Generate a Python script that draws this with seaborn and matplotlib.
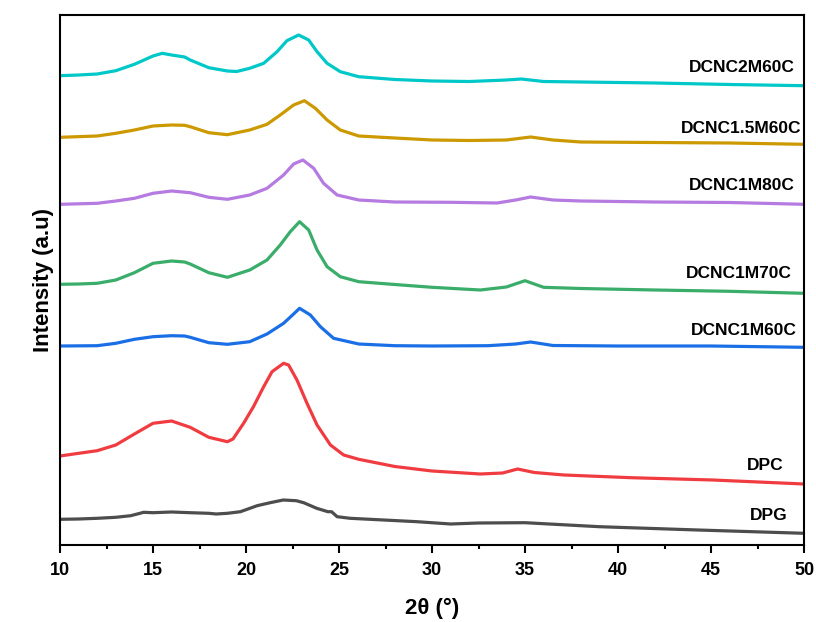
import numpy as np
import pandas as pd
import matplotlib
matplotlib.use("Agg")
import matplotlib.pyplot as plt
from matplotlib.ticker import MultipleLocator
import seaborn as sns

# ---- data (2theta in degrees, intensity in a.u., stacked) ----
cyan_x = [10.0, 11.0, 12.0, 13.0, 14.0, 15.0, 15.5, 16.0, 16.7, 17.0, 18.0, 19.0, 19.5,
          20.2, 20.95, 21.67, 22.2, 22.83, 23.37, 23.82, 24.36, 25.07, 26.06, 28.0,
          30.0, 32.0, 34.0, 34.8, 36.0, 38.0, 42.0, 46.0, 50.0]
cyan_y = [469.3, 470, 471, 474.3, 480.7, 489, 491.7, 490, 488, 485, 477.3, 474, 473.5,
          476.7, 481.7, 493.3, 504.3, 510, 505, 493.3, 481.7, 473.3, 468.3, 465.5,
          464, 463.5, 465, 466, 463.5, 463, 462, 460.5, 459.3]

gold_x = [10.0, 12.0, 13.0, 14.0, 15.0, 16.0, 16.7, 17.0, 18.0, 19.0, 20.2, 21.13,
          21.84, 22.56, 23.14, 23.73, 24.36, 25.07, 26.06, 28.0, 30.0, 32.0, 34.0,
          35.3, 36.5, 38.0, 42.0, 46.0, 50.0]
gold_y = [407.7, 409, 411.7, 415, 419, 420, 419.7, 418.3, 412.3, 410.3, 415, 420.7,
          430, 440, 444.3, 436.7, 425, 415, 409, 407, 405, 404.5, 405,
          408, 405, 403, 402.5, 402, 400.7]

purple_x = [10.0, 12.0, 13.0, 14.0, 15.0, 16.0, 17.0, 18.0, 19.0, 20.2, 21.13, 22.02,
            22.56, 23.06, 23.64, 24.17, 24.9, 26.06, 28.0, 31.0, 33.5, 34.5, 35.3,
            36.5, 38.0, 42.0, 46.0, 50.0]
purple_y = [340.7, 341.7, 344, 346.7, 351.7, 354, 352.3, 347.7, 345.7, 350, 356.7, 370,
            381, 385, 376.7, 361.7, 350, 345, 343, 342.7, 342, 345, 348,
            345, 344, 343, 342.5, 340.7]

green_x = [10.0, 11.0, 12.0, 13.0, 14.0, 15.0, 16.0, 16.7, 17.0, 18.0, 19.0, 20.2,
           21.13, 21.84, 22.38, 22.88, 23.37, 23.82, 24.36, 25.07, 26.06, 28.0, 30.0,
           32.6, 34.0, 35.0, 36.0, 38.0, 42.0, 46.0, 50.0]
green_y = [260.7, 261, 261.7, 265, 272.3, 281.7, 284, 283, 281, 272.3, 267.7, 275,
           285, 300, 313.3, 323.3, 315, 295, 278.3, 268.3, 263.3, 260.5, 257.7,
           255, 258, 264.3, 257.7, 256.5, 255, 253.7, 251.7]

blue_x = [10.0, 12.0, 13.0, 14.0, 15.0, 16.0, 16.7, 17.0, 18.0, 19.0, 20.2, 21.13,
          22.02, 22.56, 22.88, 23.46, 24.0, 24.71, 26.06, 28.0, 30.0, 33.0, 34.5,
          35.3, 36.5, 40.0, 45.0, 50.0]
blue_y = [199, 199.3, 201.7, 205.7, 208.3, 209.3, 209, 207.7, 202.3, 200.7, 203.3, 211,
          221.7, 231, 236.7, 230, 218.3, 206.7, 201, 199.3, 199, 199.3, 201,
          203, 199.5, 199, 199, 197.7]

red_x = [10.0, 11.0, 12.0, 13.0, 14.0, 15.0, 16.0, 17.0, 18.0, 19.0, 19.3, 19.87,
         20.4, 20.95, 21.4, 22.02, 22.29, 22.74, 23.28, 23.82, 24.54, 25.25, 26.06,
         28.0, 30.0, 32.6, 33.8, 34.6, 35.5, 37.1, 40.7, 45.1, 50.0]
red_y = [89, 91.7, 94.3, 100, 111, 121.7, 124, 117.7, 107.7, 103.3, 106, 121.7,
         138.3, 158.3, 173.3, 181.7, 180, 165, 141.7, 120, 100, 90, 85.7,
         78.5, 74, 71, 72, 76, 72.5, 70, 67.3, 65, 61]

gray_x = [10.0, 11.0, 12.0, 13.0, 13.8, 14.3, 14.5, 15.0, 16.0, 17.0, 18.0, 18.4,
          19.0, 19.7, 20.6, 21.3, 22.0, 22.7, 23.1, 23.8, 24.4, 24.6, 24.9, 25.6,
          27.4, 29.2, 31.0, 32.5, 35.0, 39.0, 44.3, 50.0]
gray_y = [25.7, 26, 26.7, 27.7, 29.3, 31.7, 32.7, 32.3, 33, 32.3, 31.7, 31,
          31.7, 33.3, 39.3, 42.3, 45, 44.3, 42.3, 36.7, 33.3, 33.3, 28.3, 26.7,
          25, 23.3, 21, 22, 22.3, 18.3, 15, 11.7]

names = ["DCNC2M60C", "DCNC1.5M60C", "DCNC1M80C", "DCNC1M70C", "DCNC1M60C", "DPC", "DPG"]
xs = [cyan_x, gold_x, purple_x, green_x, blue_x, red_x, gray_x]
ys = [cyan_y, gold_y, purple_y, green_y, blue_y, red_y, gray_y]
colors = ["#00C8C8", "#CC9900", "#B57BE0", "#3AAD6A", "#1A6FE6", "#F03C41", "#4D4D4D"]
label_y = [478, 416.5, 360, 271.5, 214.5, 80, 30]
label_x = [49.5, 49.85, 49.5, 49.35, 49.6, 48.9, 49.1]

frames = []
for n, x, y in zip(names, xs, ys):
    frames.append(pd.DataFrame({"two_theta": x, "intensity": y, "sample": n}))
df = pd.concat(frames, ignore_index=True)

sns.set_theme(style="white")
plt.rcParams["font.family"] = ["Liberation Sans", "DejaVu Sans"]
plt.rcParams["font.weight"] = "bold"
plt.rcParams["text.color"] = "black"
plt.rcParams["axes.labelcolor"] = "black"
plt.rcParams["xtick.color"] = "black"
plt.rcParams["lines.solid_joinstyle"] = "round"
plt.rcParams["lines.solid_capstyle"] = "round"

fig = plt.figure(figsize=(8.16, 6.22), dpi=100)
ax = fig.add_axes([60 / 816, 77 / 622, 744 / 816, 530 / 622])

sns.lineplot(data=df, x="two_theta", y="intensity", hue="sample", hue_order=names,
             palette=colors, linewidth=2.3, legend=False, ax=ax, sort=True,
             estimator=None)

for n, lx, ly in zip(names, label_x, label_y):
    ax.text(lx, ly, n, ha="right", va="center", fontsize=12.5, fontweight="bold",
            color="black")

ax.set_xlim(10, 50)
ax.set_ylim(0, 530)
ax.set_yticks([])
ax.xaxis.set_major_locator(MultipleLocator(5))
ax.xaxis.set_minor_locator(MultipleLocator(2.5))
ax.tick_params(axis="x", which="major", direction="out", length=6, width=1.5,
               labelsize=13, bottom=True, top=False, pad=6, colors="black")
ax.tick_params(axis="x", which="minor", direction="out", length=3, width=1.5,
               bottom=True, top=False)
for lab in ax.get_xticklabels():
    lab.set_fontweight("bold")
for s in ax.spines.values():
    s.set_linewidth(1.5)
    s.set_color("black")

ax.set_xlabel("2θ (°)", fontsize=16, fontweight="bold", labelpad=14, color="black")
ax.set_ylabel("Intensity (a.u)", fontsize=16, fontweight="bold", labelpad=4,
              color="black")

fig.savefig("out.png", dpi=100)
